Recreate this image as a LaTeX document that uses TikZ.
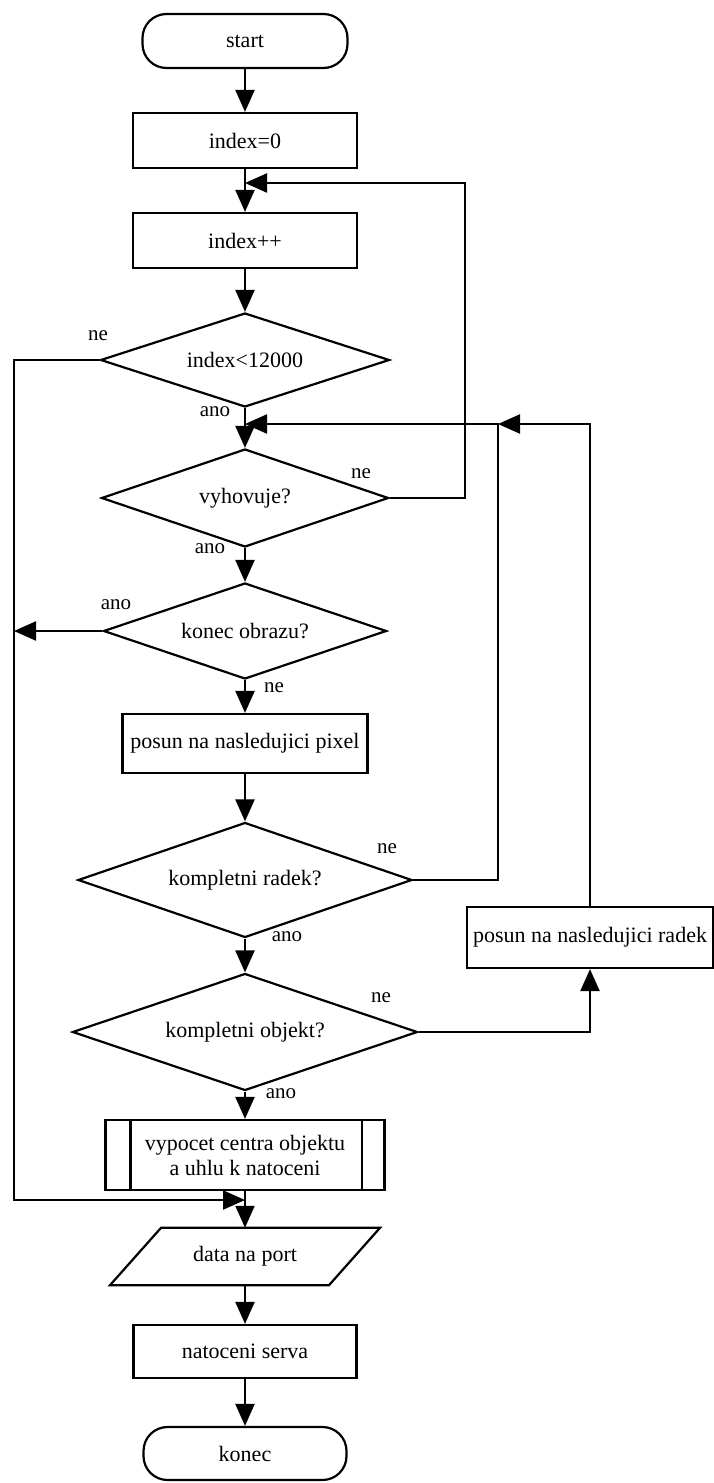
\documentclass[tikz,border=0pt]{standalone}
\usepackage{fontspec}
\setmainfont{Liberation Serif}
\usetikzlibrary{shapes.geometric,arrows.meta}
\begin{document}
\begin{tikzpicture}[x=1pt,y=-1pt,
  every node/.style={font=\fontsize{22}{25}\selectfont, inner sep=0pt},
  line/.style={line width=2.2pt},
  arr/.style={line width=2.2pt, -{Triangle[length=22pt,width=19pt]}},
  term/.style={draw, line width=2.2pt, rounded corners=24pt},
  proc/.style={draw, line width=2.2pt, rectangle},
  dec/.style={draw, line width=2.2pt, diamond, aspect=3},
  lbl/.style={font=\fontsize{21}{24}\selectfont}
]
\useasboundingbox (0,0) rectangle (714,1483);

% main column
\node[term, minimum width=205, minimum height=54] (start) at (245,41) {start};
\node[proc, minimum width=224, minimum height=55] (i0) at (245,140.5) {index=0};
\node[proc, minimum width=224, minimum height=55] (ipp) at (245,240.5) {index++};
\node[dec, minimum width=289, minimum height=94] (d1) at (245,360) {index<12000};
\node[dec, minimum width=287, minimum height=98] (d2) at (245,498) {vyhovuje?};
\node[dec, minimum width=283, minimum height=96] (d3) at (245,631) {konec obrazu?};
\node[proc, minimum width=245, minimum height=59] (pix) at (245,743.5) {posun na nasledujici pixel};
\node[dec, minimum width=334, minimum height=115] (d4) at (245,880) {kompletni radek?};
\node[proc, minimum width=246, minimum height=61] (rad) at (590,937.5) {posun na nasledujici radek};
\node[dec, minimum width=345, minimum height=117] (d5) at (245,1032) {kompletni objekt?};
\node[proc, minimum width=279, minimum height=70, align=center] (sub) at (245,1155) {vypocet centra objektu\\a uhlu k natoceni};
\draw[line] ([xshift=26pt]sub.north west) -- ([xshift=26pt]sub.south west);
\draw[line] ([xshift=-24pt]sub.north east) -- ([xshift=-24pt]sub.south east);
\node[minimum width=219, minimum height=57] (data) at (245,1256.5) {data na port};
\draw[line] ([xshift=-84pt]data.north) -- ([xshift=135pt]data.north) -- ([xshift=84pt]data.south) -- ([xshift=-135pt]data.south) -- cycle;
\node[proc, minimum width=223, minimum height=53] (serv) at (245,1351.5) {natoceni serva};
\node[term, minimum width=203, minimum height=53] (kon) at (245,1453.5) {konec};

% straight arrows
\draw[arr] (start) -- (i0);
\draw[arr] (i0) -- (ipp);
\draw[arr] (ipp) -- (d1);
\draw[arr] (d1) -- (d2);
\draw[arr] (d2) -- (d3);
\draw[arr] (d3) -- (pix);
\draw[arr] (pix) -- (d4);
\draw[arr] (d4) -- (d5);
\draw[arr] (d5) -- (sub);
\draw[arr] (sub) -- (data);
\draw[arr] (data) -- (serv);
\draw[arr] (serv) -- (kon);

% loops
\coordinate (j1) at (245,183);
\coordinate (j2) at (245,424);
\coordinate (j3) at (245,1200);
\coordinate (e1) at (465,183);
\coordinate (e2) at (498,424);
\coordinate (e4) at (14,1200);
\coordinate (e5) at (14,631);
\draw[arr] (d2.east) -| (e1) -- (j1);
\draw[arr] (d4.east) -| (e2) -- (j2);
\draw[arr] (rad.north) |- (e2);
\draw[arr] (d5.east) -| (rad.south);
\draw[arr] (d1.west) -| (e4) -- (j3);
\draw[arr] (d3.west) -- (e5);

% labels
\node[lbl] (l1) at (98,336) {ne};
\node[lbl] (l2) at (215,412) {ano};
\node[lbl] (l3) at (361,474) {ne};
\node[lbl] (l4) at (210,549) {ano};
\node[lbl] (l5) at (116,605) {ano};
\node[lbl] (l6) at (274,688) {ne};
\node[lbl] (l7) at (387,849) {ne};
\node[lbl] (l8) at (287,937) {ano};
\node[lbl] (l9) at (381,998) {ne};
\node[lbl] (l10) at (281,1094) {ano};
\end{tikzpicture}
\end{document}
